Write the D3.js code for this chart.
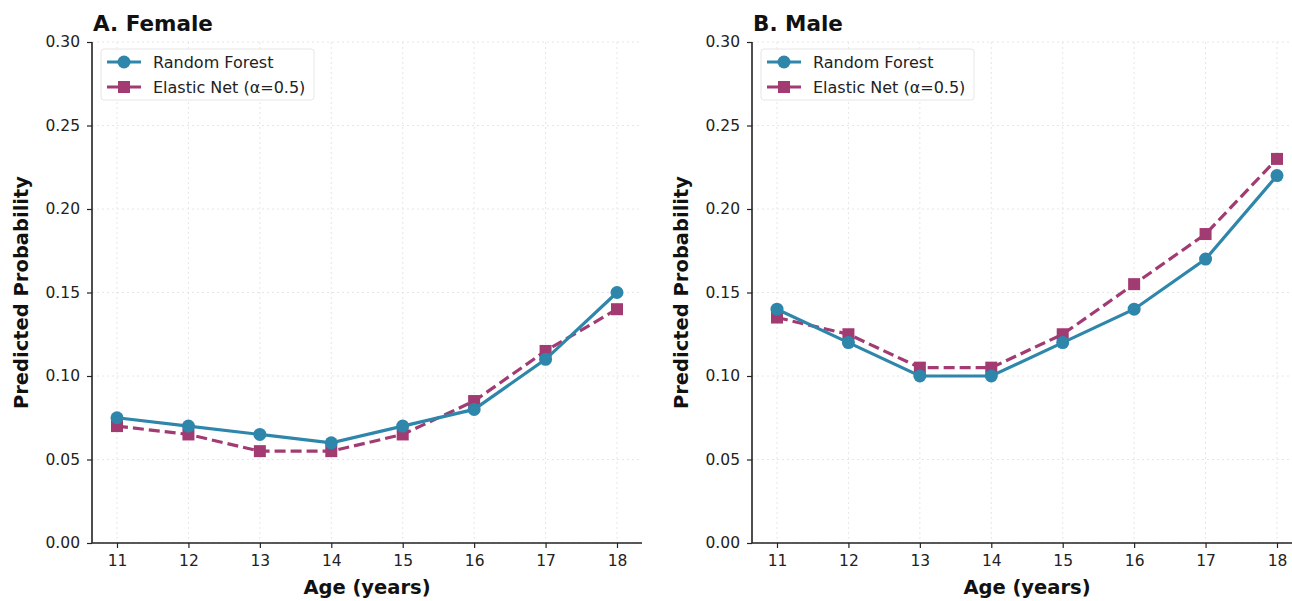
<!DOCTYPE html>
<html>
<head>
<meta charset="utf-8">
<script src="https://cdn.jsdelivr.net/npm/d3@7"></script>
<style>
  body { margin: 0; background: #fff; }
  svg { display: block; }
</style>
</head>
<body>
<script>
// data ================================================================
var ages      = [11, 12, 13, 14, 15, 16, 17, 18]
var yTicks    = [0.00, 0.05, 0.10, 0.15, 0.20, 0.25, 0.30]
var femaleRF  = [0.075, 0.070, 0.065, 0.060, 0.070, 0.080, 0.110, 0.150]
var femaleEN  = [0.070, 0.065, 0.055, 0.055, 0.065, 0.085, 0.115, 0.140]
var maleRF    = [0.140, 0.120, 0.100, 0.100, 0.120, 0.140, 0.170, 0.220]
var maleEN    = [0.135, 0.125, 0.105, 0.105, 0.125, 0.155, 0.185, 0.230]
var seriesNames = ["Random Forest", "Elastic Net (\u03b1=0.5)"]

var panels = [
    { title: "A. Female", rf: femaleRF, en: femaleEN, left: 92 },
    { title: "B. Male",   rf: maleRF,   en: maleEN,   left: 752 }
]

var blue = "#2e86ab", pink = "#a23b72"
var font = "DejaVu Sans, sans-serif"
var W = 1292, H = 601
var plotW = 550, plotTop = 42, plotBottom = 543

var svg = d3.select("body").append("svg")
    .attr("width", W).attr("height", H)
    .style("font-family", font)

var y = d3.scaleLinear().domain([0, 0.30]).range([plotBottom, plotTop])

panels.forEach(function(p) {
    var x = d3.scaleLinear().domain([10.65, 18.35]).range([p.left, p.left + plotW])
    var g = svg.append("g")

    // grid
    g.append("g").selectAll("line").data(ages).enter().append("line")
        .attr("x1", function(d) { return x(d) }).attr("x2", function(d) { return x(d) })
        .attr("y1", plotTop).attr("y2", plotBottom)
        .style("stroke", "#e0e0e0").style("stroke-width", 0.8).style("stroke-dasharray", "2,3")
    g.append("g").selectAll("line").data(yTicks).enter().append("line")
        .attr("x1", p.left).attr("x2", p.left + plotW)
        .attr("y1", function(d) { return y(d) }).attr("y2", function(d) { return y(d) })
        .style("stroke", "#e0e0e0").style("stroke-width", 0.8).style("stroke-dasharray", "2,3")

    // axes
    var xAxis = g.append("g").attr("transform", "translate(0," + plotBottom + ")")
        .call(d3.axisBottom(x).tickValues(ages).tickFormat(d3.format("d")).tickSize(5).tickPadding(7))
    var yAxis = g.append("g").attr("transform", "translate(" + p.left + ",0)")
        .call(d3.axisLeft(y).tickValues(yTicks).tickFormat(d3.format(".2f")).tickSize(5).tickPadding(7))
    ;[xAxis, yAxis].forEach(function(a) {
        a.select(".domain").style("stroke", "#222").style("stroke-width", 1.6)
        a.selectAll(".tick line").style("stroke", "#222").style("stroke-width", 1.2)
        a.selectAll(".tick text").style("font-family", font).style("font-size", "15.5px").style("fill", "#222")
    })
    xAxis.select(".domain").attr("d", "M" + p.left + ",0H" + (p.left + plotW))
    yAxis.select(".domain").attr("d", "M0," + plotTop + "V" + plotBottom)

    var line = d3.line().x(function(d, i) { return x(ages[i]) }).y(function(d) { return y(d) })

    // elastic net (dashed, squares)
    g.append("path").datum(p.en).attr("d", line)
        .style("fill", "none").style("stroke", pink).style("stroke-width", 3.2)
        .style("stroke-dasharray", "11,5")
    g.append("g").selectAll("rect").data(p.en).enter().append("rect")
        .attr("x", function(d, i) { return x(ages[i]) - 6 }).attr("y", function(d) { return y(d) - 6 })
        .attr("width", 12).attr("height", 12).style("fill", pink)

    // random forest (solid, circles)
    g.append("path").datum(p.rf).attr("d", line)
        .style("fill", "none").style("stroke", blue).style("stroke-width", 3.2)
    g.append("g").selectAll("circle").data(p.rf).enter().append("circle")
        .attr("cx", function(d, i) { return x(ages[i]) }).attr("cy", function(d) { return y(d) })
        .attr("r", 6.5).style("fill", blue)

    // title
    g.append("text").attr("x", p.left + 1).attr("y", 31)
        .style("font-size", "21.5px").style("font-weight", "bold").style("fill", "#111")
        .text(p.title)

    // axis labels
    g.append("text").attr("x", p.left + 275).attr("y", 594)
        .attr("text-anchor", "middle").style("font-size", "19.5px").style("font-weight", "bold").style("fill", "#111")
        .text("Age (years)")
    g.append("text").attr("transform", "translate(" + (p.left - 64) + "," + ((plotTop + plotBottom) / 2) + ") rotate(-90)")
        .attr("text-anchor", "middle").style("font-size", "19.5px").style("font-weight", "bold").style("fill", "#111")
        .text("Predicted Probability")

    // legend
    var lg = g.append("g").attr("transform", "translate(" + (p.left + 9) + "," + 49 + ")")
    lg.append("rect").attr("width", 213).attr("height", 51).attr("rx", 3)
        .style("fill", "#fff").style("fill-opacity", 0.85).style("stroke", "#e6e6e6")
    ;[0, 1].forEach(function(i) {
        var ly = 13 + i * 25
        var c = i === 0 ? blue : pink
        lg.append("line").attr("x1", 6).attr("x2", 40).attr("y1", ly).attr("y2", ly)
            .style("stroke", c).style("stroke-width", 3.2)
        if (i === 0) lg.append("circle").attr("cx", 23).attr("cy", ly).attr("r", 6.5).style("fill", c)
        else lg.append("rect").attr("x", 17).attr("y", ly - 6).attr("width", 12).attr("height", 12).style("fill", c)
        lg.append("text").attr("x", 52).attr("y", ly).attr("dy", "0.35em")
            .style("font-size", "16px").style("fill", "#222").text(seriesNames[i])
    })
})
</script>
</body>
</html>
